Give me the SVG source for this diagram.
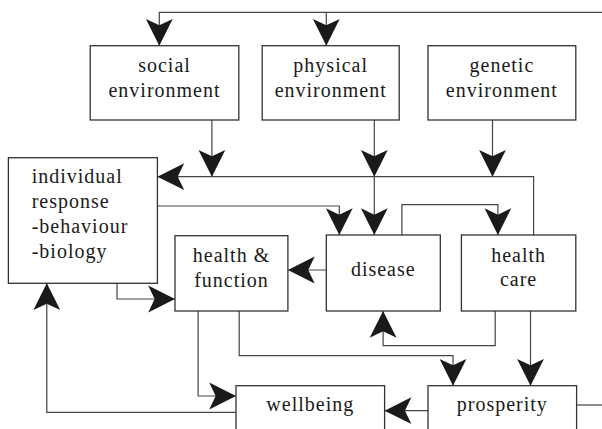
<svg xmlns="http://www.w3.org/2000/svg" width="602" height="429" viewBox="0 0 602 429">
<style>
.box{fill:#fff;stroke:#333;stroke-width:1.3}
.lbl{font-family:"Liberation Serif","Times New Roman",serif;font-size:20px;letter-spacing:1px;fill:#1a1a1a}
.c{text-anchor:middle}
.conn path{fill:none;stroke:#444;stroke-width:1.2;marker-end:url(#ah)}
.conn path.plain{marker-end:none}
</style>
<defs>
<marker id="ah" markerUnits="userSpaceOnUse" markerWidth="30" markerHeight="30" viewBox="-26 -14 28 28" refX="0" refY="0" orient="auto">
<path d="M0,0 L-25,-12.5 L-19,0 L-25,12.5 Z" fill="#1a1a1a"/>
</marker>
</defs>
<rect width="602" height="429" fill="#fff"/>
<g class="conn" id="connectors">
<path d="M602,12.3 H159.3 V45.7"/>
<path d="M326.3,12.3 V45.7"/>
<path d="M211.9,120 V176.7"/>
<path d="M374.3,120 V176.7"/>
<path d="M374.3,176.7 V235"/>
<path d="M492.5,120 V176.7"/>
<path d="M533.6,235 V176.7 H157.4"/>
<path d="M157.4,206 H339.3 V235"/>
<path d="M401.9,235 V204.7 H497.9 V235"/>
<path d="M326.3,270 H287.9"/>
<path d="M117,283.3 V299 H175"/>
<path d="M495.2,311 V345.7 H383.1 V311"/>
<path d="M530.5,311 V385.7"/>
<path class="plain" d="M576.6,405 H602"/>
<path d="M428,410.7 H384.6"/>
<path d="M198.1,311 V396 H236"/>
<path d="M239.2,311 V355.7 H453 V385.7"/>
<path d="M236,412.3 H46.8 V283.3"/>
</g>
<g id="social">
<rect class="box" x="90.2" y="45.7" width="148.6" height="74.3"/>
<text class="lbl c" x="164.5" y="72">social</text>
<text class="lbl c" x="164.5" y="97">environment</text>
</g>
<g id="physical">
<rect class="box" x="262.2" y="45.7" width="137" height="74.3"/>
<text class="lbl c" x="330.7" y="72">physical</text>
<text class="lbl c" x="330.7" y="97">environment</text>
</g>
<g id="genetic">
<rect class="box" x="428" y="45.7" width="147.8" height="74.3"/>
<text class="lbl c" x="501.9" y="72">genetic</text>
<text class="lbl c" x="501.9" y="97">environment</text>
</g>
<g id="individual">
<rect class="box" x="8.4" y="157.7" width="149" height="125.6"/>
<text class="lbl" x="31.7" y="183">individual</text>
<text class="lbl" x="31.7" y="208">response</text>
<text class="lbl" x="31.7" y="233">-behaviour</text>
<text class="lbl" x="31.7" y="258">-biology</text>
</g>
<g id="health-function">
<rect class="box" x="175" y="235.7" width="112.9" height="75.3"/>
<text class="lbl c" x="231.5" y="262">health &amp;</text>
<text class="lbl c" x="231.5" y="287">function</text>
</g>
<g id="disease">
<rect class="box" x="326.3" y="235" width="114" height="76"/>
<text class="lbl c" x="383.3" y="276">disease</text>
</g>
<g id="health-care">
<rect class="box" x="461.4" y="235" width="114.4" height="76"/>
<text class="lbl c" x="518.6" y="262">health</text>
<text class="lbl c" x="518.6" y="286">care</text>
</g>
<g id="wellbeing">
<rect class="box" x="236" y="385.7" width="148.6" height="60"/>
<text class="lbl c" x="310.3" y="411">wellbeing</text>
</g>
<g id="prosperity">
<rect class="box" x="428" y="385.7" width="148.6" height="60"/>
<text class="lbl c" x="502.3" y="411">prosperity</text>
</g>
</svg>
